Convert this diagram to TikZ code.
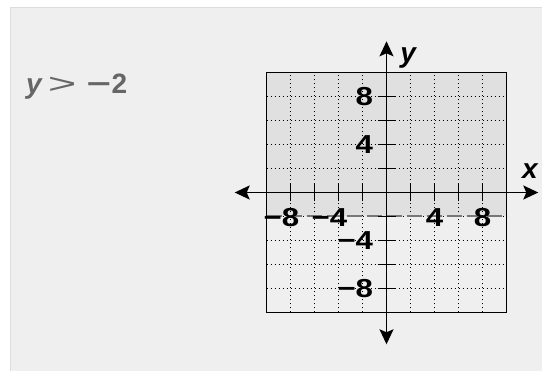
\documentclass[tikz,border=0pt]{standalone}
\usepackage{fontspec}
\setmainfont{Liberation Sans}
\usetikzlibrary{arrows.meta}
\definecolor{panelgray}{HTML}{EFEFEF}
\definecolor{panelline}{HTML}{DCDCDC}
\definecolor{regiongray}{HTML}{E0E0E0}
\definecolor{titlegray}{HTML}{666666}
\definecolor{dashgray}{HTML}{777777}
\newcommand{\widelab}[1]{\scalebox{1.2}[1]{#1}}
\tikzset{
  axisline/.style={line width=1.8pt, {Stealth[length=15pt,width=14pt,inset=3pt]}-{Stealth[length=15pt,width=14pt,inset=3pt]}},
  gridline/.style={line width=0.9pt, dash pattern=on 1pt off 3pt},
  ticklab/.style={inner sep=0pt, font=\fontsize{26}{26}\selectfont\bfseries},
  axislab/.style={inner sep=0pt, font=\fontsize{28}{28}\selectfont\bfseries\itshape},
  tickmark/.style={line width=1.5pt},
}
\begin{document}
\begin{tikzpicture}[x=1pt,y=-1pt]
\useasboundingbox (0,0) rectangle (542,371);
\fill[white] (0,0) rectangle (542,371);
\fill[panelgray] (10.5,7.5) rectangle (542,371);
\draw[panelline, line width=1.2pt] (10.5,371) -- (10.5,7.5) -- (542,7.5);
\node[anchor=base west, inner sep=0pt, text=titlegray, font=\fontsize{28}{28}\selectfont\bfseries] (title) at (26,93.3)
  {\textit{y}\hspace{5pt}\scalebox{1.75}[1]{\textmd{>}}\hspace{10pt}\scalebox{1.5}[1]{\char"2212}\hspace{0.5pt}2};
\begin{scope}[shift={(386.5,192.5)}, x=12pt, y=12pt]
  \fill[regiongray] (-10,-2) rectangle (10,10);
  \foreach \v in {-8,-6,-4,-2,2,4,6,8} {
    \draw[gridline] (\v,-10) -- (\v,10);
    \draw[gridline] (-10,\v) -- (10,\v);
  }
  \draw[line width=1.4pt] (-10,-10) rectangle (10,10);
  \draw[dashgray, line width=2pt, dash pattern=on 15pt off 5pt] (-10,-2) -- (10,-2);
  \foreach \v in {-8,-6,-4,-2,2,4,6,8} {
    \draw[tickmark] (\v,-0.75) -- (\v,0.75);
    \draw[tickmark] (-0.75,\v) -- (0.75,\v);
  }
  \coordinate (xl) at (-12.65,0);
  \coordinate (xr) at (12.65,0);
  \coordinate (yb) at (0,-12.65);
  \coordinate (yt) at (0,12.6);
  \draw[axisline] (xl) -- (xr);
  \draw[axisline] (yb) -- (yt);
  \node[axislab] (xlab) at (11.96,1.8) {x};
  \node[axislab] (ylab) at (1.8,11.2) {y};
  \node[ticklab] (xm8) at (-8,-2.1) {\widelab{\llap{\char"2212}8}};
  \node[ticklab] (xm4) at (-4,-2.1) {\widelab{\llap{\char"2212}4}};
  \node[ticklab] (xp4) at (4,-2.1) {\widelab{4}};
  \node[ticklab] (xp8) at (8,-2.1) {\widelab{8}};
  \node[ticklab, anchor=east] (yp8) at (-1.1,8) {\widelab{8}};
  \node[ticklab, anchor=east] (yp4) at (-1.1,4) {\widelab{4}};
  \node[ticklab, anchor=east] (ym4) at (-1.1,-4) {\widelab{\char"2212 4}};
  \node[ticklab, anchor=east] (ym8) at (-1.1,-8) {\widelab{\char"2212 8}};
\end{scope}
\end{tikzpicture}
\end{document}
